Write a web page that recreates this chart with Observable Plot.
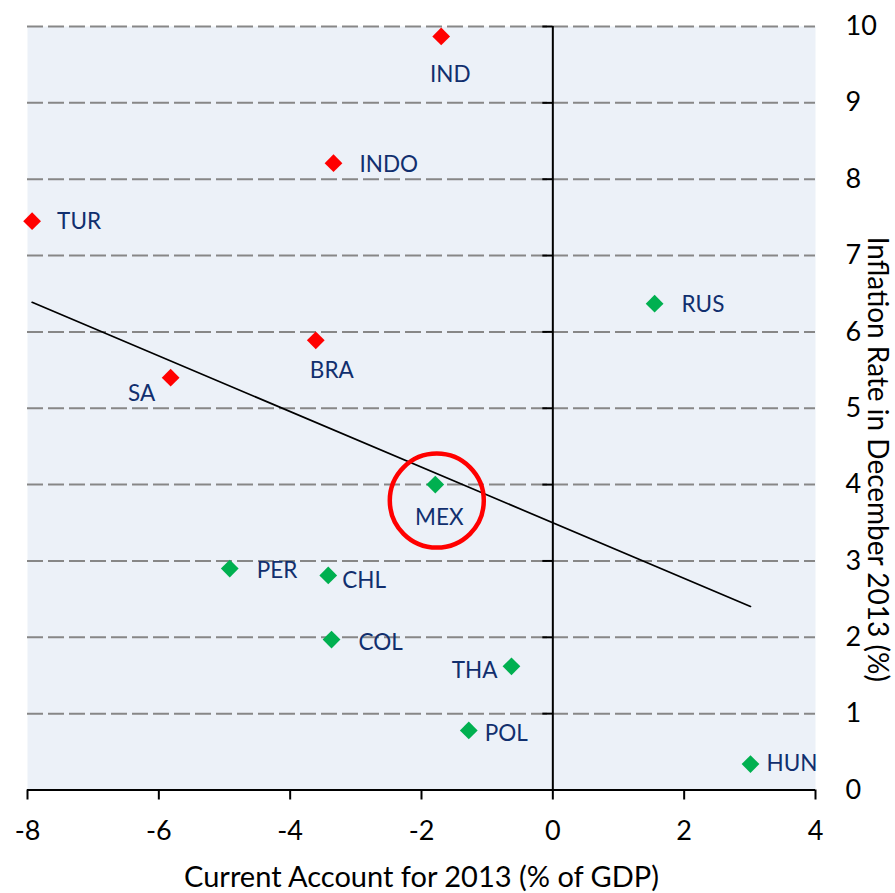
<!DOCTYPE html>
<html>
<head>
<meta charset="utf-8">
<script src="https://cdn.jsdelivr.net/npm/d3@7"></script>
<script src="https://cdn.jsdelivr.net/npm/@observablehq/plot@0.6"></script>
<style>
  html, body { margin: 0; padding: 0; background: white; }
</style>
</head>
<body>
<div id="chart"></div>
<script>
const countries = ["IND", "INDO", "TUR", "BRA", "SA", "MEX", "RUS", "PER", "CHL", "COL", "THA", "POL", "HUN"];
const currentAccount = [-1.70, -3.34, -7.93, -3.61, -5.82, -1.79, 1.55, -4.92, -3.42, -3.37, -0.63, -1.28, 3.01];
const inflation = [9.87, 8.21, 7.45, 5.89, 5.40, 4.00, 6.37, 2.90, 2.81, 1.97, 1.62, 0.78, 0.34];
const groups = ["high", "high", "high", "high", "high", "low", "low", "low", "low", "low", "low", "low", "low"];
const xTicks = [-8, -6, -4, -2, 0, 2, 4];
const yTicks = [0, 1, 2, 3, 4, 5, 6, 7, 8, 9, 10];
const xTitle = "Current Account for 2013 (% of GDP)";
const yTitle = "Inflation Rate in December 2013 (%)";
const highlighted = "MEX";

const data = countries.map((c, i) => ({country: c, ca: currentAccount[i], inf: inflation[i], group: groups[i]}));

const navy = "#112F6E";
const labelSize = 22.5;
function label(name, dx, dy, anchor = "start") {
  return Plot.text(data.filter(d => d.country === name), {
    x: "ca", y: "inf", text: "country", dx, dy, textAnchor: anchor,
    fill: navy, fontSize: labelSize
  });
}

const chart = Plot.plot({
  width: 895,
  height: 893,
  marginLeft: 27,
  marginRight: 80,
  marginTop: 26,
  marginBottom: 103.5,
  x: {domain: [-8, 4]},
  y: {domain: [0, 10]},
  color: {type: "ordinal", domain: ["high", "low"], range: ["#FF0000", "#00B050"]},
  style: {fontFamily: "Lato, sans-serif", background: "white", color: "black", overflow: "visible"},
  marks: [
    Plot.frame({fill: "#ECF1F8", stroke: null}),
    Plot.ruleY(yTicks.filter(v => v > 0), {stroke: "#878787", strokeWidth: 2, strokeDasharray: "16,5"}),
    Plot.ruleY(yTicks, {x1: 0, x2: 0, insetLeft: -10, stroke: "black", strokeWidth: 2}),
    Plot.ruleX([0], {stroke: "black", strokeWidth: 2}),
    Plot.ruleY([0], {stroke: "black", strokeWidth: 2}),
    Plot.axisX({ticks: xTicks, tickSize: 10, tickPadding: 21, fontSize: 27, strokeWidth: 2, label: null, tickFormat: d => String(d)}),
    Plot.axisY({anchor: "right", ticks: yTicks, tickSize: 0, tickPadding: 30, fontSize: 27, label: null, tickFormat: d => String(d)}),
    Plot.linearRegressionY(data, {x: "ca", y: "inf", ci: 0, stroke: "black", strokeWidth: 1.7}),
    Plot.dot(data, {x: "ca", y: "inf", symbol: "diamond2", r: 8, fill: "group", stroke: null}),
    Plot.dot(data.filter(d => d.country === highlighted), {x: "ca", y: "inf", r: 47, dx: 1.5, dy: 16, fill: "none", stroke: "#FF0000", strokeWidth: 4.5}),
    label("IND", 9, 38, "middle"),
    label("INDO", 26, 2),
    label("TUR", 25, 1),
    label("BRA", 16, 30, "middle"),
    label("SA", -29, 16, "middle"),
    label("MEX", 4, 33, "middle"),
    label("RUS", 27, 1),
    label("PER", 27, 2),
    label("CHL", 14, 5),
    label("COL", 27, 3),
    label("THA", -14, 4, "end"),
    label("POL", 16, 3),
    label("HUN", 16, 0),
    Plot.text([xTitle], {frameAnchor: "bottom", dy: 87.5, textAnchor: "middle", lineAnchor: "middle", fontSize: 29, fill: "black"}),
    Plot.text([yTitle], {frameAnchor: "right", dx: 61, dy: 51, rotate: 90, textAnchor: "middle", lineAnchor: "middle", fontSize: 28, fill: "black"})
  ]
});
document.getElementById("chart").appendChild(chart);
</script>
</body>
</html>
